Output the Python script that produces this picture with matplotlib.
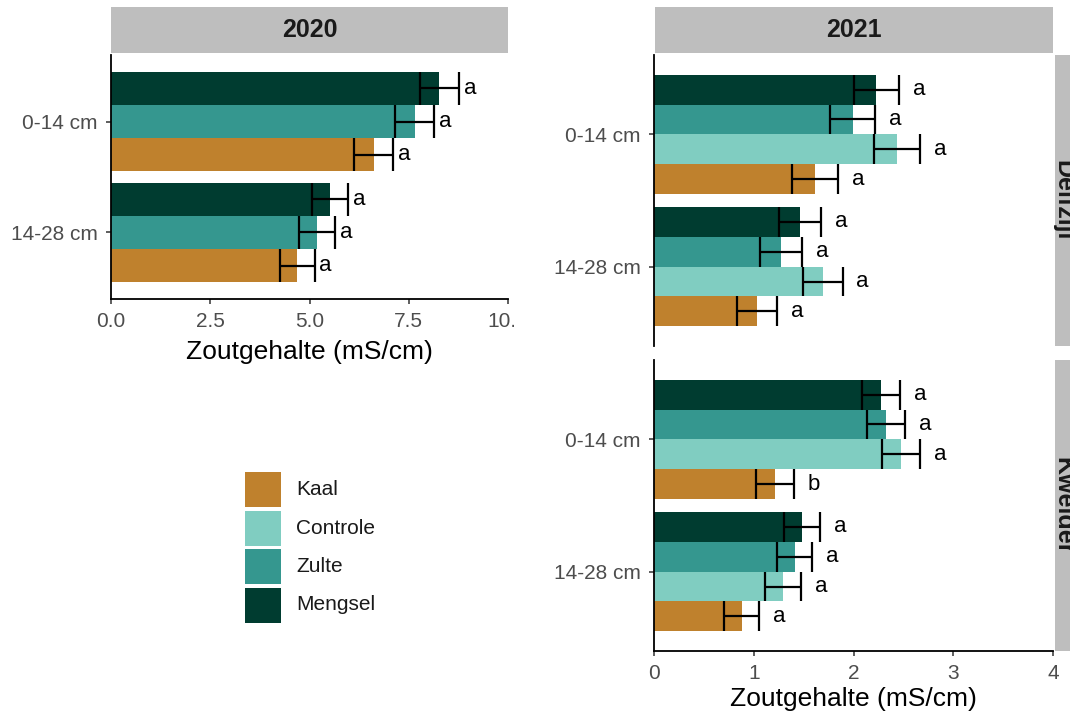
import matplotlib
matplotlib.use("Agg")
import matplotlib.pyplot as plt
from matplotlib.patches import Rectangle
from matplotlib.transforms import Bbox, TransformedBbox

plt.rcParams["font.family"] = ["Liberation Sans", "DejaVu Sans"]

# Treatments in legend order (bottom bar -> top bar inside each depth group)
treatments = ["Kaal", "Controle", "Zulte", "Mengsel"]
colors = {"Kaal": "#BF812D", "Controle": "#80CDC1",
          "Zulte": "#35978F", "Mengsel": "#003C30"}
depths = ["0-14 cm", "14-28 cm"]

# 2020: no Controle plots
trt_2020 = ["Kaal", "Zulte", "Mengsel"]
mean_2020 = {"0-14 cm": [6.62, 7.65, 8.27], "14-28 cm": [4.69, 5.19, 5.52]}
se_2020 = {"0-14 cm": [0.49, 0.49, 0.49], "14-28 cm": [0.44, 0.45, 0.45]}
let_2020 = {"0-14 cm": ["a", "a", "a"], "14-28 cm": ["a", "a", "a"]}

# 2021, per location
trt_2021 = ["Kaal", "Controle", "Zulte", "Mengsel"]
mean_delfzijl = {"0-14 cm": [1.61, 2.44, 1.99, 2.23], "14-28 cm": [1.03, 1.69, 1.27, 1.46]}
se_delfzijl = {"0-14 cm": [0.23, 0.23, 0.23, 0.23], "14-28 cm": [0.20, 0.20, 0.21, 0.21]}
let_delfzijl = {"0-14 cm": ["a", "a", "a", "a"], "14-28 cm": ["a", "a", "a", "a"]}

mean_kwelder = {"0-14 cm": [1.21, 2.48, 2.33, 2.28], "14-28 cm": [0.88, 1.29, 1.41, 1.48]}
se_kwelder = {"0-14 cm": [0.19, 0.19, 0.19, 0.19], "14-28 cm": [0.175, 0.18, 0.175, 0.18]}
let_kwelder = {"0-14 cm": ["b", "a", "a", "a"], "14-28 cm": ["a", "a", "a", "a"]}

W, H = 1070, 715
fig = plt.figure(figsize=(W / 100, H / 100), dpi=100)


def px_axes(x0, y0, x1, y1):
    # pixel box (top-left origin) -> figure axes
    return fig.add_axes([x0 / W, 1 - y1 / H, (x1 - x0) / W, (y1 - y0) / H])


def draw_panel(ax, trts, means, ses, letters, xmax, label_off, show_xaxis):
    n = len(trts)
    bw = 0.9 / n
    for d_i, d in enumerate(depths):
        for j, t in enumerate(trts):
            y = d_i + 0.45 - bw * (j + 0.5)
            m, s = means[d][j], ses[d][j]
            ax.barh(y, m, height=bw, color=colors[t], linewidth=0)
            ax.hlines(y, m - s, m + s, color="black", lw=1.6)
            ax.vlines([m - s, m + s], y - bw / 2, y + bw / 2, color="black", lw=1.6)
            ax.text(m + s + label_off, y, letters[d][j], fontsize=16,
                    va="center", ha="left", color="black")
    ax.set_xlim(0, xmax)
    ax.set_ylim(1.6, -0.6)
    ax.set_yticks(range(len(depths)))
    ax.set_yticklabels(depths)
    for side in ("top", "right"):
        ax.spines[side].set_visible(False)
    for side in ("left", "bottom"):
        ax.spines[side].set_linewidth(1.3)
    ax.tick_params(axis="both", labelsize=15, labelcolor="#4D4D4D",
                   color="#333333", length=3.5, width=1.1, pad=6)
    if show_xaxis:
        ax.set_xlabel("Zoutgehalte (mS/cm)", fontsize=19, labelpad=3)
    else:
        ax.spines["bottom"].set_visible(False)
        ax.tick_params(axis="x", bottom=False, labelbottom=False)


def strip(box, text, rotation=0, text_x=0.5):
    sax = px_axes(*box)
    sax.set_facecolor("#BEBEBE")
    for sp in sax.spines.values():
        sp.set_visible(False)
    sax.set_xticks([])
    sax.set_yticks([])
    sax.text(text_x, 0.5, text, transform=sax.transAxes, ha="center",
             va="center", fontsize=18, fontweight="bold", rotation=rotation,
             color="#1A1A1A")


# 2020 panel
ax20 = px_axes(111, 55, 508, 299)
draw_panel(ax20, trt_2020, mean_2020, se_2020, let_2020, 10, 0.12, True)
ax20.set_xticks([0, 2.5, 5, 7.5, 10])
ax20.set_xticklabels(["0.0", "2.5", "5.0", "7.5", "10.0"])
ax20.xaxis.labelpad = 6
clip = TransformedBbox(Bbox([[0, 0], [514 / W, 1]]), fig.transFigure)
for tk in ax20.xaxis.get_major_ticks():
    tk.label1.set_clip_box(clip)
    tk.label1.set_clip_on(True)
strip((111, 7, 508, 53), "2020")

# 2021 panels
ax_d = px_axes(654, 55, 1053, 346)
draw_panel(ax_d, trt_2021, mean_delfzijl, se_delfzijl, let_delfzijl, 4, 0.14, False)
ax_k = px_axes(654, 360, 1053, 651)
draw_panel(ax_k, trt_2021, mean_kwelder, se_kwelder, let_kwelder, 4, 0.14, True)
ax_k.set_xticks([0, 1, 2, 3, 4])
strip((655, 7, 1053, 53), "2021")
# side strips run past the right edge of the canvas
strip((1055, 55, 1101, 346), "Delfzijl", rotation=-90, text_x=8 / 46)
strip((1055, 360, 1101, 651), "Kwelder", rotation=-90, text_x=8 / 46)

# legend
lax = px_axes(240, 465, 420, 630)
lax.set_xlim(0, 180)
lax.set_ylim(165, 0)
lax.axis("off")
for i, t in enumerate(treatments):
    y0 = 7 + i * 38.5
    lax.add_patch(Rectangle((5, y0), 36, 35, facecolor=colors[t], edgecolor="none"))
    lax.text(56, y0 + 17.5, t, fontsize=15, va="center", ha="left", color="#1A1A1A")

fig.savefig("out.png", dpi=100)
